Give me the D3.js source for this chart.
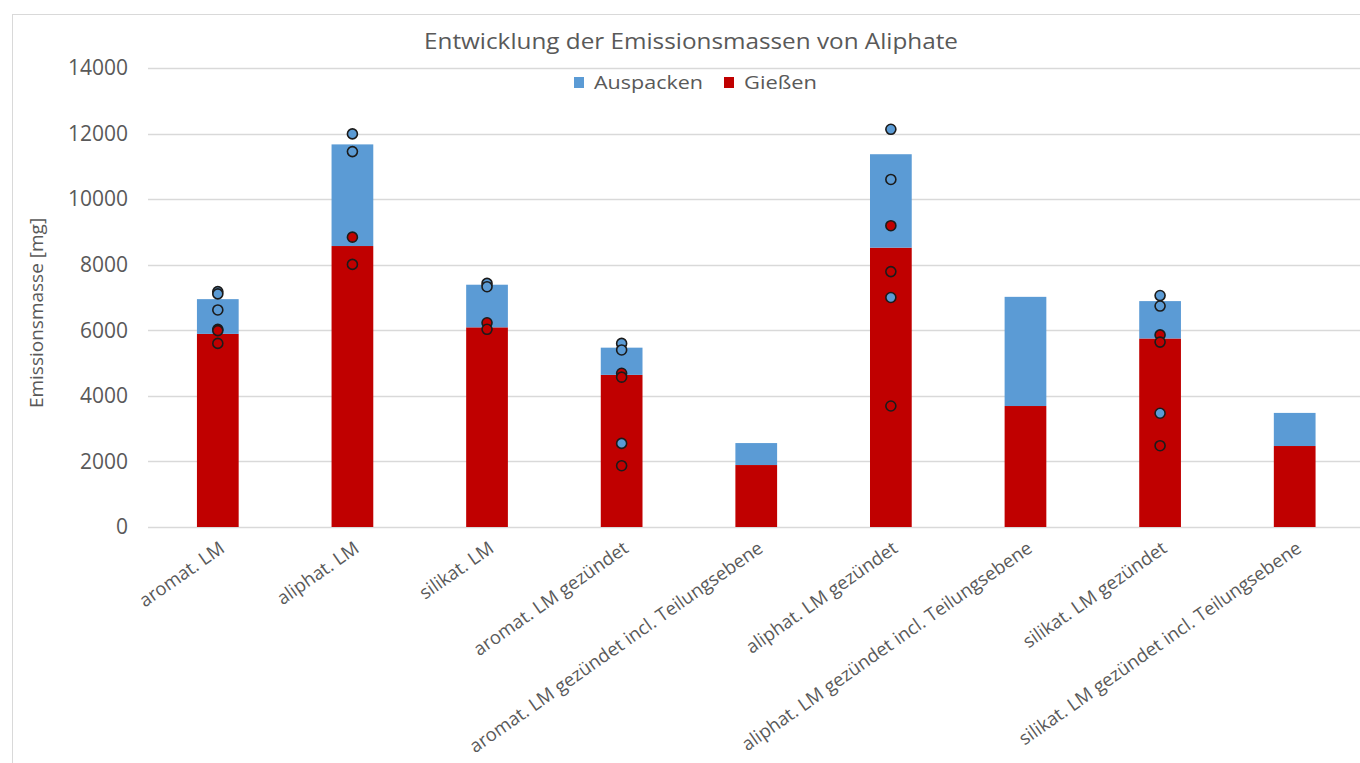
<!DOCTYPE html>
<html>
<head>
<meta charset="utf-8">
<script src="https://cdn.jsdelivr.net/npm/d3@7"></script>
<style>
  html, body { margin: 0; padding: 0; background: #fff; }
  svg { display: block; }
  text { font-family: "Open Sans", "DejaVu Sans", sans-serif; fill: #595959; }
</style>
</head>
<body>
<svg id="chart" width="1360" height="763"></svg>
<script>
// Categories (x axis)
const categories = [
  "aromat. LM",
  "aliphat. LM",
  "silikat. LM",
  "aromat. LM gezündet",
  "aromat. LM gezündet incl. Teilungsebene",
  "aliphat. LM gezündet",
  "aliphat. LM gezündet incl. Teilungsebene",
  "silikat. LM gezündet",
  "silikat. LM gezündet incl. Teilungsebene"
];

// Stacked bar series [mg]
const giessen   = [5890, 8570, 6090, 4640, 1890, 8520, 3690, 5750, 2470];
const auspacken = [1060, 3100, 1300,  830,  670, 2850, 3330, 1140, 1010];

// Individual measurements: cumulative total (blue) and casting only (red)
const pointsTotal = [
  [7180, 7110, 6620],
  [11990, 11450],
  [7430, 7330],
  [5600, 5400, 2550],
  [],
  [12130, 10600, 7000],
  [],
  [7060, 6740, 3470],
  []
];
const pointsGiessen = [
  [6030, 5990, 5600],
  [8840, 8010],
  [6230, 6030],
  [4690, 4570, 1870],
  [],
  [9190, 7790, 3690],
  [],
  [5860, 5640, 2480],
  []
];

const yTicks = [0, 2000, 4000, 6000, 8000, 10000, 12000, 14000];
const seriesNames = ["Auspacken", "Gießen"];
const colors = { "Auspacken": "#5B9BD5", "Gießen": "#C00000" };

const svg = d3.select("#chart");

// chart frame
svg.append("rect")
  .attr("x", 12.5).attr("y", 14.5)
  .attr("width", 1400).attr("height", 800)
  .attr("fill", "#fff").attr("stroke", "#d9d9d9").attr("stroke-width", 1);

const plot = { left: 150.5, right: 1362, top: 68, bottom: 527 };

const x = d3.scaleBand().domain(categories).range([plot.left, plot.right]).padding(0);
const y = d3.scaleLinear().domain([0, 14000]).range([plot.bottom, plot.top]);
const barW = x.bandwidth() * 0.31;

// gridlines
svg.append("g")
  .selectAll("line")
  .data(yTicks)
  .join("line")
  .attr("x1", 148).attr("x2", 1362)
  .attr("y1", d => Math.round(y(d)) + 0.5)
  .attr("y2", d => Math.round(y(d)) + 0.5)
  .attr("stroke", "#d9d9d9").attr("stroke-width", 1.3);

// y axis labels
const yAxis = d3.axisLeft(y).tickValues(yTicks).tickSize(0).tickPadding(0).tickFormat(d3.format("d"));
const gy = svg.append("g").attr("transform", "translate(128,0)").call(yAxis);
gy.select(".domain").remove();
gy.selectAll("text")
  .attr("font-size", 21).attr("fill", "#595959")
  .style("font-family", "'Open Sans', sans-serif");

// stacked data
const rows = categories.map((c, i) => ({ cat: c, "Gießen": giessen[i], "Auspacken": auspacken[i] }));
const stack = d3.stack().keys(["Gießen", "Auspacken"]);
const stacked = stack(rows);

svg.append("g")
  .selectAll("g")
  .data(stacked)
  .join("g")
  .attr("fill", d => colors[d.key])
  .selectAll("rect")
  .data(d => d)
  .join("rect")
  .attr("x", d => x(d.data.cat) + (x.bandwidth() - barW) / 2)
  .attr("width", barW)
  .attr("y", d => y(d[1]))
  .attr("height", d => y(d[0]) - y(d[1]));

// measurement points
function drawPoints(list, fill) {
  const pts = [];
  list.forEach((vals, i) => vals.forEach(v => pts.push({ cat: categories[i], v })));
  svg.append("g")
    .selectAll("circle")
    .data(pts)
    .join("circle")
    .attr("cx", d => x(d.cat) + x.bandwidth() / 2)
    .attr("cy", d => y(d.v))
    .attr("r", 5)
    .attr("fill", fill)
    .attr("stroke", "#1b1b1b")
    .attr("stroke-width", 1.6);
}
drawPoints(pointsTotal, colors["Auspacken"]);
drawPoints(pointsGiessen, colors["Gießen"]);

// x axis category labels
svg.append("g")
  .selectAll("text")
  .data(categories)
  .join("text")
  .attr("transform", d => `translate(${x(d) + x.bandwidth() / 2 + 8},${plot.bottom + 24}) rotate(-35)`)
  .attr("text-anchor", "end")
  .attr("font-size", 18.5)
  .text(d => d);

// y axis title
svg.append("text")
  .attr("transform", "translate(43,313) rotate(-90)")
  .attr("text-anchor", "middle")
  .attr("font-size", 19)
  .text("Emissionsmasse [mg]");

// title
svg.append("text")
  .attr("x", 424).attr("y", 49)
  .attr("font-size", 22)
  .attr("textLength", 534)
  .attr("lengthAdjust", "spacingAndGlyphs")
  .text("Entwicklung der Emissionsmassen von Aliphate");

// legend
const legendX = [574, 724];
const legendW = [109, 73];
const lg = svg.append("g")
  .selectAll("g")
  .data(seriesNames)
  .join("g")
  .attr("transform", (d, i) => `translate(${legendX[i]},0)`);
lg.append("rect")
  .attr("x", 0).attr("y", 77).attr("width", 10).attr("height", 11)
  .attr("fill", d => colors[d]);
lg.append("text")
  .attr("x", 20).attr("y", 89)
  .attr("font-size", 19)
  .attr("textLength", (d, i) => legendW[i])
  .attr("lengthAdjust", "spacingAndGlyphs")
  .text(d => d);
</script>
</body>
</html>
